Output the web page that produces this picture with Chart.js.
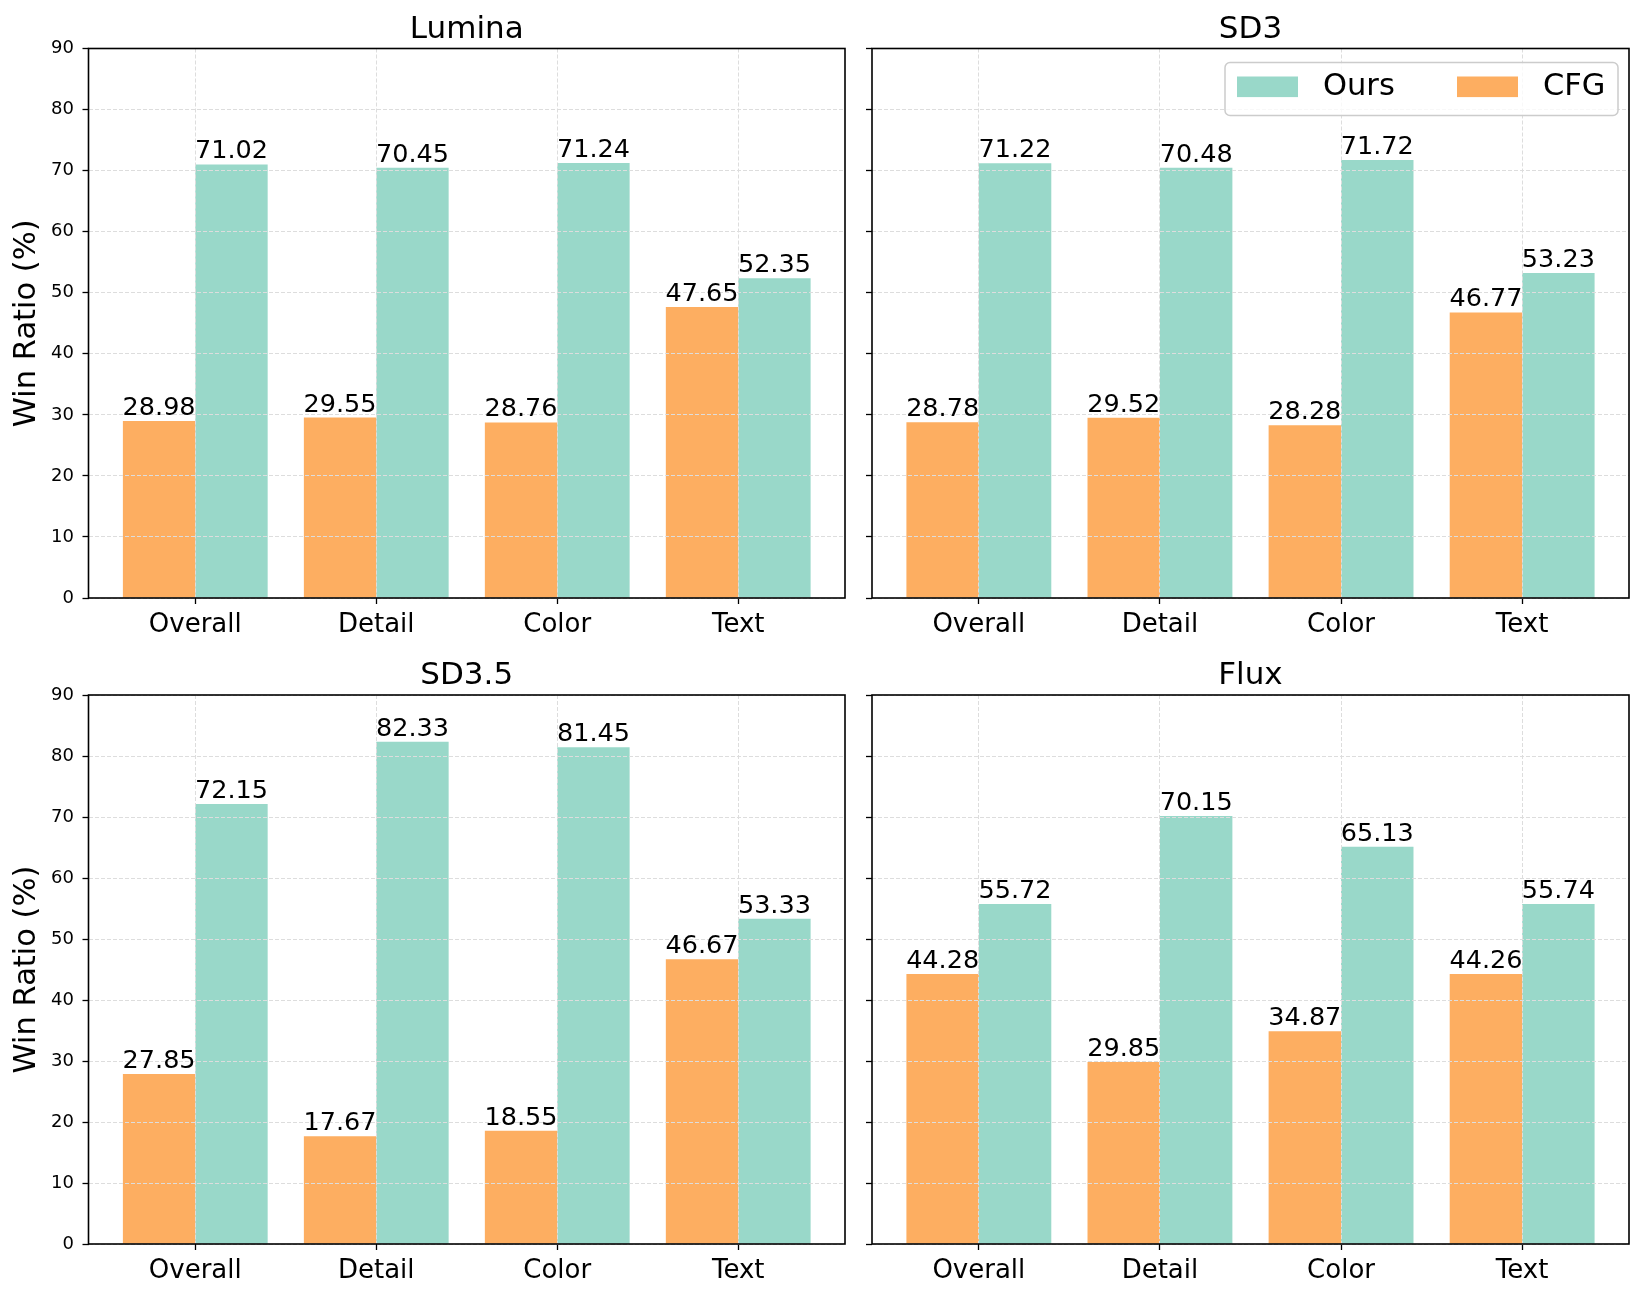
<!DOCTYPE html>
<html>
<head>
<meta charset="utf-8">
<script src="https://cdn.jsdelivr.net/npm/chart.js@4.4.0/dist/chart.umd.min.js"></script>
<style>
  body { margin: 0; background: #fff; }
  #fig { position: relative; width: 1643px; height: 1298px; }
  canvas { position: absolute; }
</style>
</head>
<body>
<div id="fig">
  <canvas id="c0" width="858" height="648" style="left:0px;top:0px"></canvas>
  <canvas id="c1" width="785" height="648" style="left:858px;top:0px"></canvas>
  <canvas id="c2" width="858" height="650" style="left:0px;top:648px"></canvas>
  <canvas id="c3" width="785" height="650" style="left:858px;top:648px"></canvas>
</div>
<script>
// data
const categories = ['Overall', 'Detail', 'Color', 'Text'];
const yTicks = [0, 10, 20, 30, 40, 50, 60, 70, 80, 90];

const luminaCfg = [28.98, 29.55, 28.76, 47.65];
const luminaOurs = [71.02, 70.45, 71.24, 52.35];
const sd3Cfg = [28.78, 29.52, 28.28, 46.77];
const sd3Ours = [71.22, 70.48, 71.72, 53.23];
const sd35Cfg = [27.85, 17.67, 18.55, 46.67];
const sd35Ours = [72.15, 82.33, 81.45, 53.33];
const fluxCfg = [44.28, 29.85, 34.87, 44.26];
const fluxOurs = [55.72, 70.15, 65.13, 55.74];

const oursColor = '#99d8c9';
const cfgColor = '#fdae61';
const FONT = 'DejaVu Sans';

Chart.defaults.font.family = FONT;
Chart.defaults.color = '#000';

// value text above each bar
const valueLabels = {
  id: 'valueLabels',
  afterDraw(chart) {
    const ctx = chart.ctx;
    ctx.save();
    ctx.font = '25.5px "' + FONT + '"';
    ctx.fillStyle = '#000';
    ctx.textAlign = 'center';
    ctx.textBaseline = 'alphabetic';
    chart.data.datasets.forEach((ds, di) => {
      chart.getDatasetMeta(di).data.forEach((bar, i) => {
        ctx.fillText(ds.data[i].y.toFixed(2), bar.x, bar.y - 6);
      });
    });
    ctx.restore();
  }
};

// box round the plot area, like matplotlib spines, plus the panel title centred on it
const frame = {
  id: 'frame',
  afterDraw(chart, args, opts) {
    const a = chart.chartArea;
    const ctx = chart.ctx;
    ctx.save();
    ctx.strokeStyle = '#000';
    ctx.lineWidth = 1.6;
    ctx.strokeRect(a.left, a.top, a.right - a.left, a.bottom - a.top);
    ctx.font = '31px "' + FONT + '"';
    ctx.fillStyle = '#000';
    ctx.textAlign = 'center';
    ctx.textBaseline = 'alphabetic';
    ctx.fillText(opts.text, (a.left + a.right) / 2, a.top - 11);
    ctx.restore();
  }
};

// legend inside the top right panel
const innerLegend = {
  id: 'innerLegend',
  afterDraw(chart) {
    const a = chart.chartArea;
    const ctx = chart.ctx;
    const right = a.right - 11, left = right - 393;
    const top = a.top + 14, bottom = top + 53;
    ctx.save();
    ctx.beginPath();
    ctx.roundRect(left, top, right - left, bottom - top, 5);
    ctx.fillStyle = 'rgba(255,255,255,0.8)';
    ctx.fill();
    ctx.strokeStyle = '#cccccc';
    ctx.lineWidth = 1.5;
    ctx.stroke();
    ctx.font = '30.5px "' + FONT + '"';
    ctx.textBaseline = 'middle';
    ctx.textAlign = 'left';
    const order = [1, 0];
    order.forEach((di, k) => {
      const ds = chart.data.datasets[di];
      const x = left + 12 + k * 220;
      ctx.fillStyle = ds.backgroundColor;
      ctx.fillRect(x, top + 14, 61, 20.6);
      ctx.fillStyle = '#000';
      ctx.fillText(ds.label, x + 86, top + 25);
    });
    ctx.restore();
  }
};

function makeChart(id, title, cfg, ours, isLeft, isTop, withLegend) {
  const plugins = [valueLabels, frame];
  if (withLegend) plugins.push(innerLegend);
  return new Chart(document.getElementById(id), {
    type: 'bar',
    data: {
      datasets: [
        { label: 'CFG', data: cfg.map((v, i) => ({ x: i, y: v })), backgroundColor: cfgColor, borderWidth: 0 },
        { label: 'Ours', data: ours.map((v, i) => ({ x: i, y: v })), backgroundColor: oursColor, borderWidth: 0 }
      ]
    },
    options: {
      responsive: false,
      animation: false,
      devicePixelRatio: 1,
      categoryPercentage: 0.8,
      barPercentage: 1.0,
      layout: {
        padding: { left: 0, right: isLeft ? 13 : 14, top: isTop ? 48.5 : 47, bottom: isTop ? 0 : 4 }
      },
      plugins: {
        legend: { display: false },
        tooltip: { enabled: false },
        title: { display: false },
        frame: { text: title }
      },
      scales: {
        x: {
          type: 'linear',
          min: -0.59,
          max: 3.59,
          offset: false,
          afterBuildTicks: s => { s.ticks = categories.map((c, i) => ({ value: i })); },
          afterFit: s => { s.height = 50; },
          ticks: {
            callback: v => categories[v],
            font: { size: 26 },
            color: '#000',
            padding: 5.5,
            maxRotation: 0,
            autoSkip: false
          },
          grid: {
            offset: false,
            color: '#dddddd',
            lineWidth: 1,
            z: 1,
            tickColor: '#000',
            tickLength: 6,
            tickWidth: 1.3,
            tickBorderDash: []
          },
          border: { display: false, dash: [4, 2] }
        },
        y: {
          min: 0,
          max: 90,
          afterBuildTicks: s => { s.ticks = yTicks.map(v => ({ value: v })); },
          afterFit: s => { s.width = isLeft ? 88.5 : 14; },
          ticks: {
            callback: v => (isLeft ? String(v) : ''),
            font: { size: 18 },
            color: '#000',
            padding: 8.5
          },
          grid: {
            color: '#dddddd',
            lineWidth: 1,
            z: 1,
            tickColor: '#000',
            tickLength: 6,
            tickWidth: 1.3,
            tickBorderDash: []
          },
          border: { display: false, dash: [4, 2] },
          title: {
            display: isLeft,
            text: 'Win Ratio (%)',
            color: '#000',
            font: { size: 30.5 },
            padding: { top: 9, bottom: 0 }
          }
        }
      }
    },
    plugins: plugins
  });
}

makeChart('c0', 'Lumina', luminaCfg, luminaOurs, true, true, false);
makeChart('c1', 'SD3', sd3Cfg, sd3Ours, false, true, true);
makeChart('c2', 'SD3.5', sd35Cfg, sd35Ours, true, false, false);
makeChart('c3', 'Flux', fluxCfg, fluxOurs, false, false, false);
</script>
</body>
</html>
